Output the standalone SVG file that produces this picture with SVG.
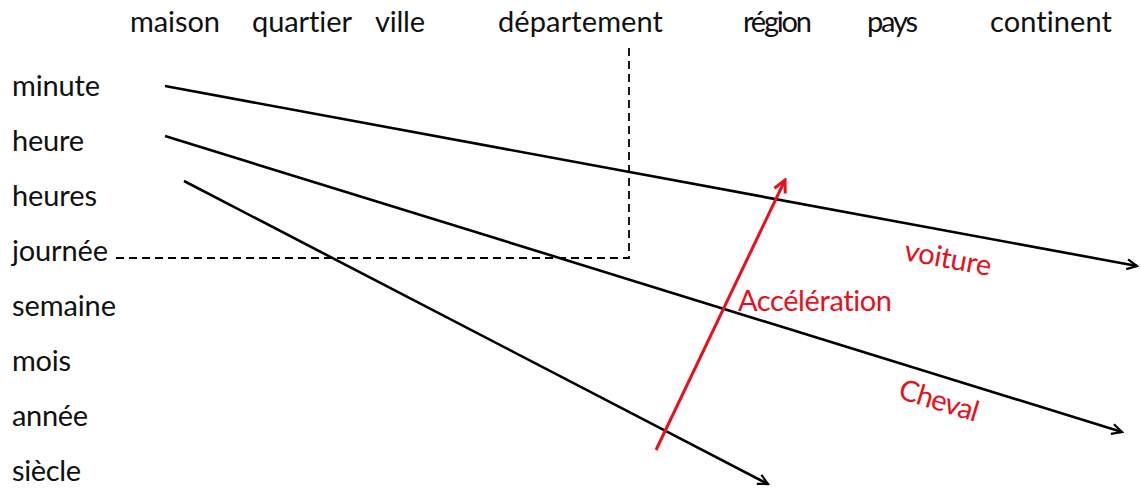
<svg xmlns="http://www.w3.org/2000/svg" width="1141" height="490" viewBox="0 0 1141 490">
<style>
text{font-family:Lato,"Open Sans",sans-serif;font-size:29px;fill:#111;font-variant-ligatures:none}
.r{fill:#e8101a}
.ln{stroke:#000;stroke-width:2.6;fill:none}
.dash{stroke:#000;stroke-width:1.8;fill:none;stroke-dasharray:8,5}
</style>
<defs>
<marker id="ah" viewBox="-12 -7 14 14" refX="0" refY="0" markerWidth="14" markerHeight="14" markerUnits="userSpaceOnUse" orient="auto">
<path d="M-10,-5 L0,0 L-10,5" fill="none" stroke="#000" stroke-width="2.2"/>
</marker>
<marker id="ahr" viewBox="-14 -8 16 16" refX="0" refY="0" markerWidth="16" markerHeight="16" markerUnits="userSpaceOnUse" orient="auto">
<path d="M-12,-6 L0,0 L-12,6" fill="none" stroke="#e8101a" stroke-width="3"/>
</marker>
</defs>
<rect width="1141" height="490" fill="#fff"/>
<g id="top-labels">
<text x="130" y="32" textLength="90">maison</text>
<text x="252" y="32" textLength="100">quartier</text>
<text x="375" y="32" textLength="50">ville</text>
<text x="498" y="32" textLength="165">département</text>
<text x="743" y="32" textLength="69">région</text>
<text x="867" y="32" textLength="51">pays</text>
<text x="990" y="32" textLength="122">continent</text>
</g>
<g id="left-labels">
<text x="12" y="96" textLength="88">minute</text>
<text x="12" y="151" textLength="72">heure</text>
<text x="12" y="206" textLength="85">heures</text>
<text x="12" y="261" textLength="96">journée</text>
<text x="12" y="316" textLength="104">semaine</text>
<text x="12" y="371" textLength="59">mois</text>
<text x="12" y="426" textLength="76">année</text>
<text x="12" y="481" textLength="69">siècle</text>
</g>
<g id="connectors">
<path class="dash" d="M116,258 H629 V48"/>
<line class="ln" x1="165" y1="86" x2="1137" y2="266" marker-end="url(#ah)"/>
<line class="ln" x1="165" y1="136" x2="1122" y2="432" marker-end="url(#ah)"/>
<line class="ln" x1="184" y1="181" x2="768" y2="484" marker-end="url(#ah)"/>
<line x1="656" y1="450" x2="785" y2="180" stroke="#e8101a" stroke-width="3" marker-end="url(#ahr)"/>
</g>
<g id="red-labels">
<text class="r" x="738" y="311" textLength="154">Accélération</text>
<text class="r" transform="translate(903,260) rotate(10.5)" textLength="88">voiture</text>
<text class="r" transform="translate(897,398) rotate(17)" textLength="82">Cheval</text>
</g>
</svg>
